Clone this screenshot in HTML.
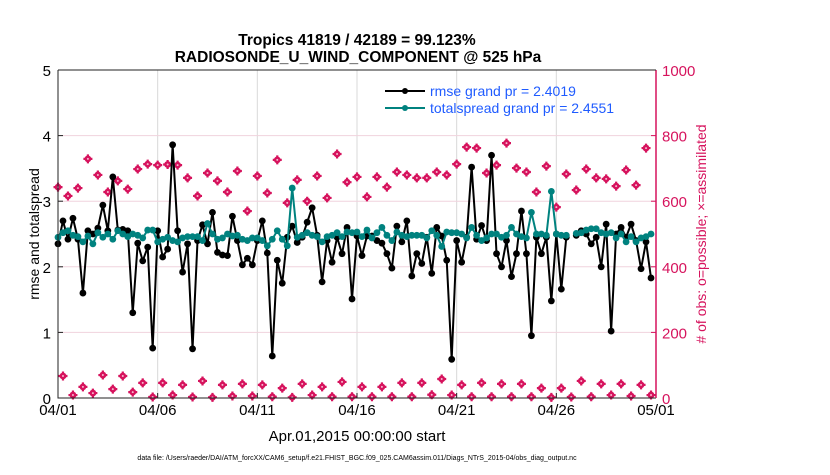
<!DOCTYPE html>
<html><head><meta charset="utf-8"><style>
body{margin:0;background:#fff;font-family:"Liberation Sans",Arial,sans-serif}
svg text{font-family:"Liberation Sans",Arial,sans-serif}
</style></head><body>
<svg id="chart" width="830" height="470" xmlns="http://www.w3.org/2000/svg">
<rect width="830" height="470" fill="#fff"/>
<g id="grid"></g>
<g id="marks"></g>
<g id="axes"></g>
<text x="357" y="45" text-anchor="middle" font-size="15.5" font-weight="bold">Tropics 41819 / 42189 = 99.123%</text>
<text x="358" y="62" text-anchor="middle" font-size="15.5" font-weight="bold">RADIOSONDE_U_WIND_COMPONENT @ 525 hPa</text>
<text x="0" y="0" transform="translate(39,234) rotate(-90)" text-anchor="middle" font-size="14">rmse and totalspread</text>
<text x="0" y="0" transform="translate(706,234) rotate(-90)" text-anchor="middle" font-size="14" fill="#d6135d"># of obs: o=possible; ×=assimilated</text>
<text x="357" y="441" text-anchor="middle" font-size="15">Apr.01,2015 00:00:00 start</text>
<text x="357" y="460" text-anchor="middle" font-size="7">data file: /Users/raeder/DAI/ATM_forcXX/CAM6_setup/f.e21.FHIST_BGC.f09_025.CAM6assim.011/Diags_NTrS_2015-04/obs_diag_output.nc</text>
<g>
  <line x1="385" y1="91" x2="425" y2="91" stroke="#000" stroke-width="2"/>
  <circle cx="405" cy="91" r="3" fill="#000"/>
  <text x="430" y="96" font-size="14" fill="#1f5bff">rmse grand pr = 2.4019</text>
  <line x1="385" y1="108" x2="425" y2="108" stroke="#00827f" stroke-width="2"/>
  <circle cx="405" cy="108" r="3" fill="#00827f"/>
  <text x="430" y="113" font-size="14" fill="#1f5bff">totalspread grand pr = 2.4551</text>
</g>
</svg>
<script>
const rmse=[2.35,2.70,2.42,2.74,2.42,1.60,2.55,2.50,2.59,2.94,2.55,3.37,2.56,2.57,2.55,1.30,2.36,2.09,2.30,0.76,2.55,2.15,2.27,3.86,2.55,1.92,2.35,0.75,2.40,2.64,2.35,2.83,2.22,2.18,2.17,2.77,2.40,2.03,2.13,2.03,2.40,2.70,2.21,0.64,2.10,1.75,2.45,2.62,2.37,2.45,2.68,2.90,2.48,1.77,2.40,2.07,2.45,2.20,2.60,1.51,2.47,2.17,2.47,2.47,2.40,2.36,2.20,1.98,2.62,2.38,2.70,1.86,2.20,2.05,2.45,1.90,2.60,2.47,2.10,0.59,2.40,2.07,2.45,3.52,2.42,2.63,2.40,3.70,2.20,2.00,2.40,1.85,2.20,2.85,2.20,0.95,2.45,2.20,2.45,1.48,2.50,1.66,2.45,null,2.48,2.55,2.50,2.35,2.45,2.00,2.65,1.02,2.50,2.60,2.45,2.65,2.40,1.97,2.38,1.83];
const spread=[2.45,2.52,2.55,2.48,2.46,2.38,2.47,2.35,2.52,2.45,2.50,2.42,2.55,2.50,2.46,2.50,2.48,2.44,2.56,2.56,2.38,2.42,2.45,2.40,2.38,2.44,2.46,2.46,2.46,2.40,2.66,2.50,2.42,2.44,2.50,2.47,2.48,2.42,2.40,2.44,2.44,2.40,2.32,2.42,2.55,2.42,2.32,3.20,2.45,2.48,2.52,2.48,2.46,2.38,2.46,2.48,2.52,2.46,2.53,2.52,2.53,2.46,2.56,2.44,2.52,2.60,2.48,2.40,2.53,2.48,2.46,2.48,2.48,2.48,2.44,2.55,2.48,2.31,2.53,2.52,2.52,2.50,2.44,2.60,2.48,2.40,2.44,2.50,2.50,2.45,2.48,2.60,2.50,2.46,2.44,2.83,2.50,2.50,2.48,3.15,2.50,2.48,2.48,null,2.51,2.52,2.56,2.58,2.58,2.52,2.50,2.52,2.44,2.50,2.38,2.46,2.38,2.44,2.46,2.50];
const possibleObs=[643,616,640,729,680,628,662,637,698,713,710,712,710,671,616,686,662,628,692,570,677,625,726,595,665,600,677,610,744,658,674,613,674,643,689,680,671,671,689,680,713,765,762,686,710,777,701,689,628,707,582,683,634,698,671,668,646,695,649,762];
const lowObs=[67,9,34,15,70,27,67,18,46,3,46,9,40,3,52,2,40,6,43,6,40,4,30,2,43,9,34,4,49,4,34,4,34,4,46,4,46,10,58,9,40,4,46,4,43,4,43,4,30,2,30,3,52,4,43,9,43,6,40,9];
const xTickLabels=["04/01","04/06","04/11","04/16","04/21","04/26","05/01"];
const xTickDays=[0,5,10,15,20,25,30];
const yLeftTicks=[0,1,2,3,4,5];
const yRightTicks=[0,200,400,600,800,1000];

const NS="http://www.w3.org/2000/svg";
const L=58,R=656,T=70,B=398;
const xDay=d=>L+(R-L)*d/30;
const yL=v=>B-(B-T)*v/5;
const yR=v=>B-(B-T)*v/1000;
function mk(tag,attrs,parent){const e=document.createElementNS(NS,tag);for(const k in attrs)e.setAttribute(k,attrs[k]);parent.appendChild(e);return e;}
const grid=document.getElementById('grid'),marks=document.getElementById('marks'),axes=document.getElementById('axes');

xTickDays.forEach((d,i)=>{
  if(d>0&&d<30){const g=mk('line',{x1:xDay(d),x2:xDay(d),y1:T,y2:B,stroke:'#d9d9d9','stroke-width':1},grid);
  
  }
  const tk=mk('line',{x1:xDay(d),x2:xDay(d),y1:B,y2:B-5,stroke:'#222','stroke-width':1},axes);
  
  
  const t=mk('text',{x:xDay(d),y:B+17,'text-anchor':'middle','font-size':15},axes);
  t.textContent=xTickLabels[i];
  
  
});
yRightTicks.forEach(v=>{
  if(v>0&&v<1000){const g=mk('line',{x1:L,x2:R,y1:yR(v),y2:yR(v),stroke:'#f0d3dd','stroke-width':1},grid);
  
  }
  const tk=mk('line',{x1:R-5,x2:R,y1:yR(v),y2:yR(v),stroke:'#d6135d','stroke-width':1},axes);
  
  
  const t=mk('text',{x:R+6,y:yR(v)+6,'font-size':15,fill:'#d6135d'},axes);
  t.textContent=v;
  
  
});
yLeftTicks.forEach(v=>{
  const tk=mk('line',{x1:L,x2:L+5,y1:yL(v),y2:yL(v),stroke:'#222','stroke-width':1},axes);
  
  
  const t=mk('text',{x:L-7,y:yL(v)+6,'font-size':15,'text-anchor':'end'},axes);
  t.textContent=v;
  
  
});
const axl=mk('path',{d:`M${L},${T}V${B}H${R}`,fill:'none',stroke:'#222','stroke-width':1},axes);


const axr=mk('line',{x1:R,x2:R,y1:T,y2:B,stroke:'#d6135d','stroke-width':1.5},axes);


const axt=mk('line',{x1:L,x2:R,y1:T,y2:T,stroke:'#222','stroke-width':1},axes);



function obsMarker(x,y,name){
  const g=mk('g',{},marks);
  
  
  mk('circle',{cx:x,cy:y,r:3.4,fill:'#d6135d'},g);
  mk('path',{d:`M${x-4.5},${y}L${x+4.5},${y}M${x},${y-4.5}L${x},${y+4.5}`,stroke:'#d6135d','stroke-width':2.2},g);
  mk('circle',{cx:x,cy:y,r:1,fill:'#f7b9cf'},g);
}
possibleObs.forEach((v,k)=>obsMarker(xDay(k*0.5),yR(v),'obs-count-marker'));
lowObs.forEach((v,k)=>obsMarker(xDay(k*0.5+0.25),yR(v),'obs-count-low-marker'));

function series(arr,color,name){
  let d='',pen=false;
  arr.forEach((v,i)=>{if(v===null){pen=false;return;}d+=(pen?'L':'M')+xDay(i*0.25).toFixed(2)+','+yL(v).toFixed(2);pen=true;});
  const p=mk('path',{d:d,fill:'none',stroke:color,'stroke-width':2,'stroke-linejoin':'round'},marks);
  
  
  arr.forEach((v,i)=>{if(v===null)return;
    const c=mk('circle',{cx:xDay(i*0.25),cy:yL(v),r:3.4,fill:color},marks);
    
    });
}
series(rmse,'#000','rmse');
series(spread,'#00827f','totalspread');
</script>
</body></html>
